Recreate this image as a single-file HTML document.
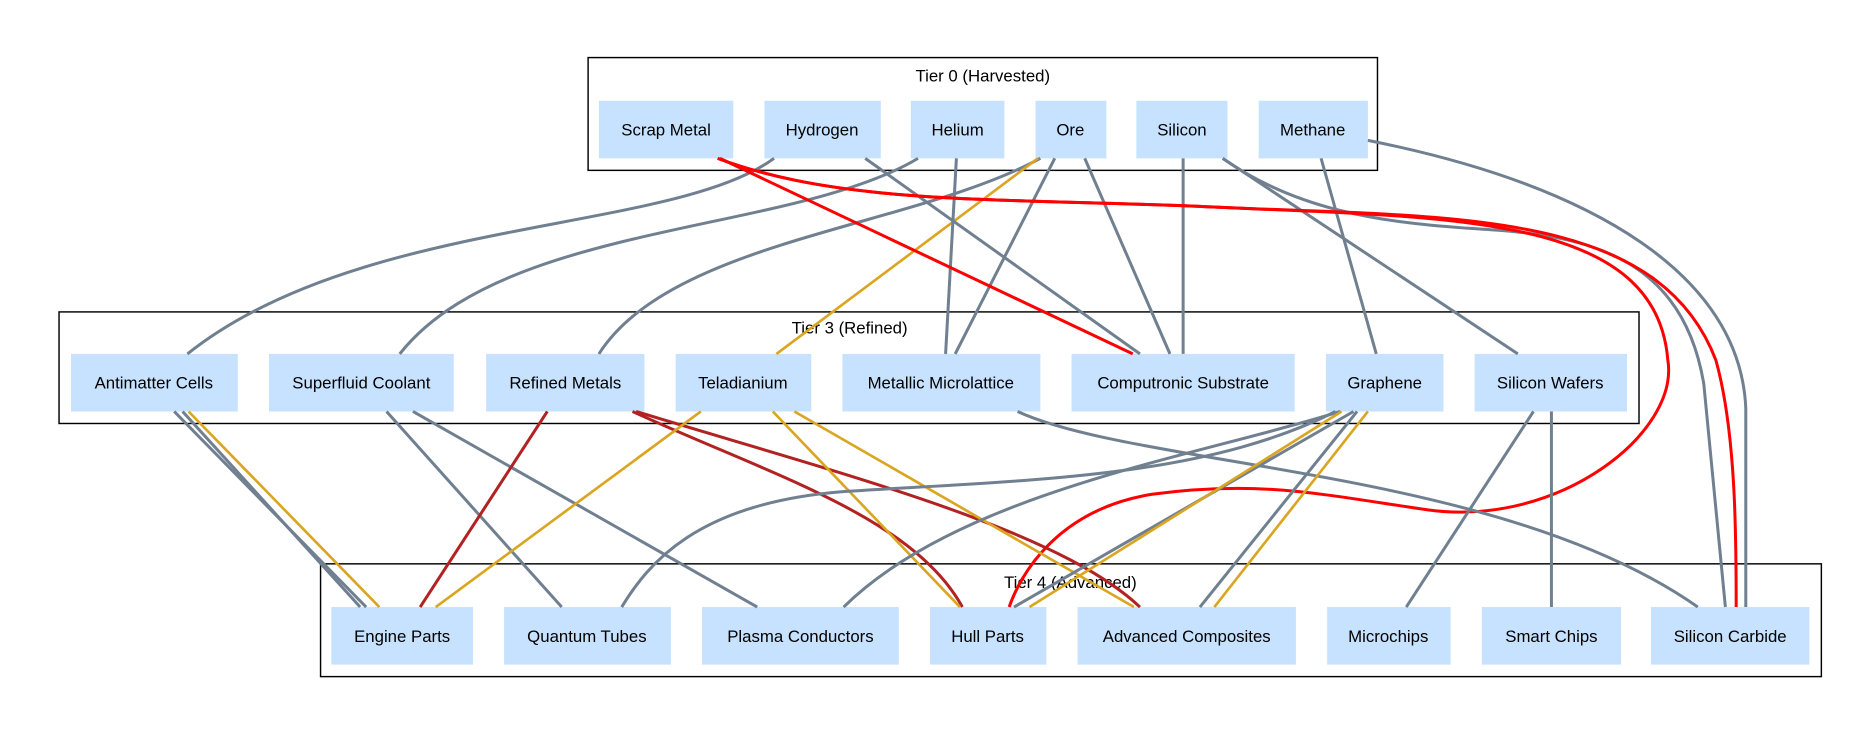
<!DOCTYPE html>
<html><head><meta charset="utf-8"><style>
html,body{margin:0;padding:0;background:#fff;}
svg{display:block;}
text{font-family:"Liberation Sans",Arial,sans-serif;font-size:14px;fill:#000;}
.c{fill:none;stroke:#000;stroke-width:1.2;}
.n{fill:#c6e2ff;}
.g{fill:none;stroke:#708090;stroke-width:2.5;}
.y{fill:none;stroke:#daa520;stroke-width:2.2;}
.f{fill:none;stroke:#b22222;stroke-width:2.5;}
.r{fill:none;stroke:#ff0000;stroke-width:2.5;}
</style></head><body>
<svg width="1872" height="733" viewBox="0 0 1560 611" xmlns="http://www.w3.org/2000/svg">
<rect x="0" y="0" width="1560" height="611" fill="#fff"/>
<!-- clusters -->
<rect class="c" x="490" y="48" width="658" height="94"/>
<text x="819" y="68" text-anchor="middle">Tier 0 (Harvested)</text>
<rect class="c" x="49" y="260" width="1317" height="93"/>
<text x="708" y="278" text-anchor="middle">Tier 3 (Refined)</text>
<rect class="c" x="267" y="470" width="1251" height="94"/>
<text x="892" y="490" text-anchor="middle">Tier 4 (Advanced)</text>

<!-- nodes tier 0 -->
<g>
<rect class="n" x="499" y="84" width="112" height="48"/>
<rect class="n" x="637" y="84" width="97" height="48"/>
<rect class="n" x="759" y="84" width="78" height="48"/>
<rect class="n" x="863" y="84" width="59" height="48"/>
<rect class="n" x="947" y="84" width="76" height="48"/>
<rect class="n" x="1049" y="84" width="91" height="48"/>
<!-- tier 3 -->
<rect class="n" x="59" y="295" width="139" height="48"/>
<rect class="n" x="224" y="295" width="154" height="48"/>
<rect class="n" x="405" y="295" width="132" height="48"/>
<rect class="n" x="563" y="295" width="113" height="48"/>
<rect class="n" x="702" y="295" width="165" height="48"/>
<rect class="n" x="893" y="295" width="186" height="48"/>
<rect class="n" x="1105" y="295" width="98" height="48"/>
<rect class="n" x="1229" y="295" width="127" height="48"/>
<!-- tier 4 -->
<rect class="n" x="276" y="506" width="118" height="48"/>
<rect class="n" x="420" y="506" width="139" height="48"/>
<rect class="n" x="585" y="506" width="164" height="48"/>
<rect class="n" x="775" y="506" width="97" height="48"/>
<rect class="n" x="898" y="506" width="182" height="48"/>
<rect class="n" x="1106" y="506" width="103" height="48"/>
<rect class="n" x="1235" y="506" width="116" height="48"/>
<rect class="n" x="1376" y="506" width="132" height="48"/>
</g>

<!-- edges -->
<g>
<path class="g" d="M645,132 C560,195 300,180 156,295"/>
<path class="g" d="M765,132 C660,195 420,185 333,295"/>
<path class="g" d="M867,132 C760,190 560,200 499,295"/>
<path class="y" d="M865,132 L647,295"/>
<path class="g" d="M797,132 L788,295"/>
<path class="g" d="M879,132 L796,295"/>
<path class="g" d="M721,132 L950,295"/>
<path class="g" d="M904,132 L975,295"/>
<path class="g" d="M986,132 L986,295"/>
<path class="r" d="M600,132 L944,295"/>
<path class="g" d="M1101,132 L1147,295"/>
<path class="g" d="M1019,132 L1265,295"/>
<path class="g" d="M1019,132 C1080,175 1150,185 1220,190 C1300,195 1400,200 1420,320 L1438,506"/>
<path class="g" d="M1140,117 C1330,155 1450,230 1455,340 L1455,506"/>
<path class="r" d="M598,132 C700,170 820,165 1000,172 C1200,182 1380,170 1430,300 C1447,360 1447,450 1447,506"/>
<path class="r" d="M598,132 C700,170 820,165 1000,172 C1200,182 1380,175 1390,300 C1400,360 1300,440 1190,425 C1100,412 1050,400 960,412 C880,425 850,480 841,506"/>

<path class="g" d="M145,343 L305,506"/>
<path class="g" d="M152,343 L300,506"/>
<path class="y" d="M157,343 L316,506"/>
<path class="g" d="M322,343 L468,506"/>
<path class="g" d="M344,343 L631,506"/>
<path class="f" d="M456,343 L350,506"/>
<path class="f" d="M527,343 C640,395 760,430 802,506"/>
<path class="f" d="M530,343 C700,395 880,440 950,506"/>
<path class="y" d="M584,343 L363,506"/>
<path class="y" d="M644,343 L800,506"/>
<path class="y" d="M662,343 L945,506"/>
<path class="g" d="M848,343 C950,390 1250,390 1415,506"/>
<path class="g" d="M1113,343 C1000,400 850,400 700,410 C580,420 540,470 518,506"/>
<path class="g" d="M1117,343 C1000,380 800,410 703,506"/>
<path class="g" d="M1128,343 L845,506"/>
<path class="y" d="M1118,343 L858,506"/>
<path class="g" d="M1131,343 L1000,506"/>
<path class="y" d="M1140,343 L1012,506"/>
<path class="g" d="M1278,343 L1172,506"/>
<path class="g" d="M1293,343 L1293,506"/>
</g>

<!-- labels -->
<g text-anchor="middle">
<text x="555" y="113">Scrap Metal</text>
<text x="685" y="113">Hydrogen</text>
<text x="798" y="113">Helium</text>
<text x="892" y="113">Ore</text>
<text x="985" y="113">Silicon</text>
<text x="1094" y="113">Methane</text>
<text x="128" y="324">Antimatter Cells</text>
<text x="301" y="324">Superfluid Coolant</text>
<text x="471" y="324">Refined Metals</text>
<text x="619" y="324">Teladianium</text>
<text x="784" y="324">Metallic Microlattice</text>
<text x="986" y="324">Computronic Substrate</text>
<text x="1154" y="324">Graphene</text>
<text x="1292" y="324">Silicon Wafers</text>
<text x="335" y="535">Engine Parts</text>
<text x="489" y="535">Quantum Tubes</text>
<text x="667" y="535">Plasma Conductors</text>
<text x="823" y="535">Hull Parts</text>
<text x="989" y="535">Advanced Composites</text>
<text x="1157" y="535">Microchips</text>
<text x="1293" y="535">Smart Chips</text>
<text x="1442" y="535">Silicon Carbide</text>
</g>
</svg>
</body></html>
